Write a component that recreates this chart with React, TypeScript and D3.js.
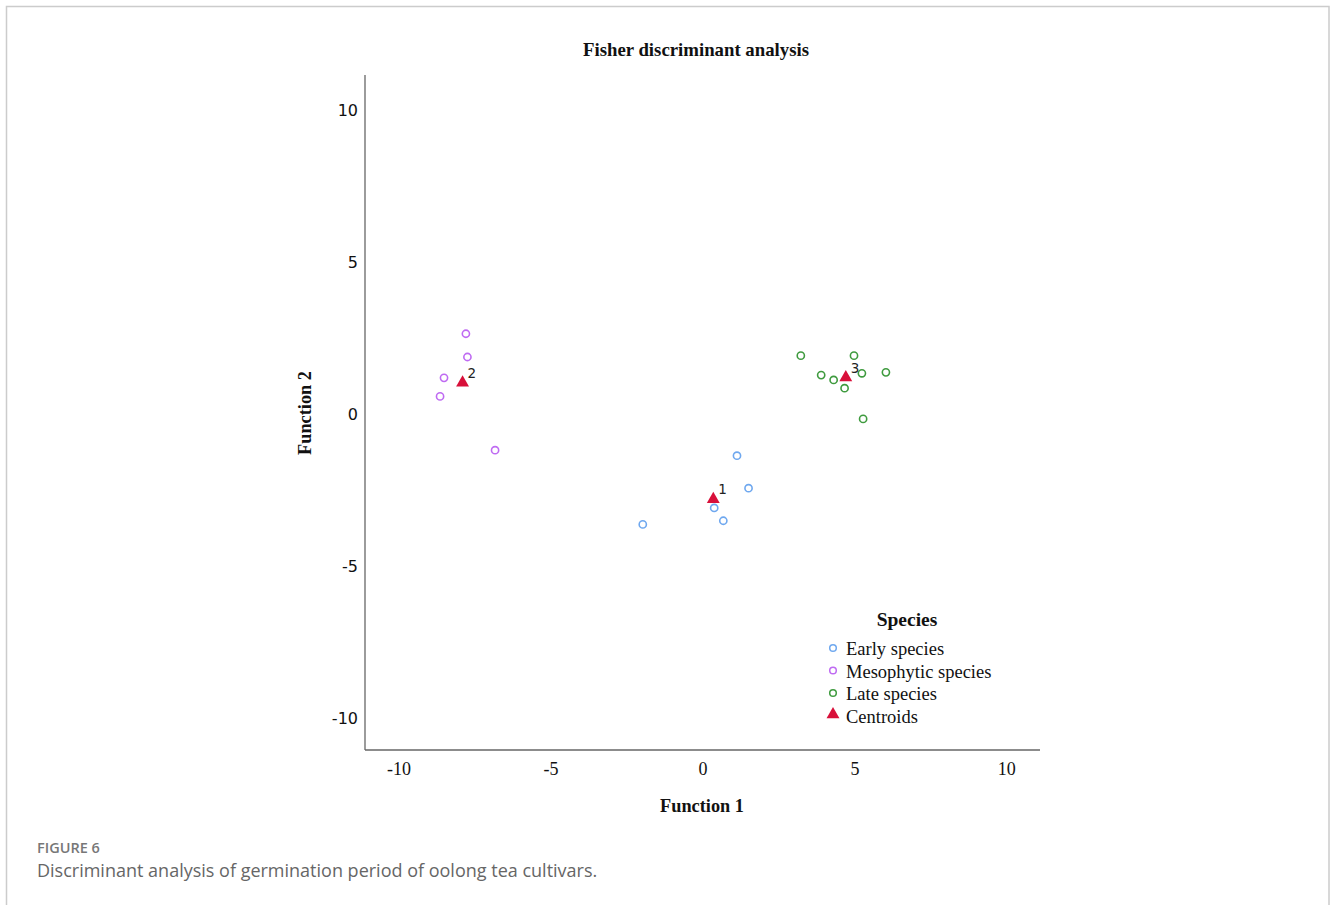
import React from "react";
import * as d3 from "d3";

// discriminant scores
const earlyX = [1.12, 1.5, 0.37, 0.67, -1.98];
const earlyY = [-1.37, -2.44, -3.09, -3.51, -3.63];
const mesoX = [-7.8, -7.75, -8.52, -8.65, -6.84];
const mesoY = [2.64, 1.875, 1.19, 0.58, -1.19];
const lateX = [3.22, 4.97, 3.89, 4.3, 4.66, 5.23, 6.02, 5.27];
const lateY = [1.92, 1.92, 1.28, 1.12, 0.85, 1.34, 1.37, -0.16];
const centroidX = [0.34, -7.91, 4.7];
const centroidY = [-2.8, 1.03, 1.2];
const centroidLabels = ["1", "2", "3"];
const ticks = [-10, -5, 0, 5, 10];
const legendLabels = ["Early species", "Mesophytic species", "Late species", "Centroids"];

const colors = ["#6fa8ef", "#bf6bf2", "#3f9b3f"];
const red = "#d8103a";
const serif = "'Liberation Serif', 'Times New Roman', serif";

export default function App() {
  const width = 1330,
    height = 905;
  const x = d3.scaleLinear().domain([-11.12, 11.09]).range([365, 1040]);
  const y = d3.scaleLinear().domain([-11.05, 11.15]).range([750, 75]);

  const groups = [
    { xs: earlyX, ys: earlyY, color: colors[0] },
    { xs: mesoX, ys: mesoY, color: colors[1] },
    { xs: lateX, ys: lateY, color: colors[2] },
  ];

  const tri = d3.symbol().type(d3.symbolTriangle).size(72)();

  return (
    <svg
      width={width}
      height={height}
      style={{ position: "absolute", left: 0, top: 0, background: "#fff" }}
    >
      <path d="M6.5,920 V6.5 H1329 V920" fill="none" stroke="#cccccc" strokeWidth={1.5} />

      <text x={696} y={56} textAnchor="middle" fontFamily={serif} fontWeight="bold" fontSize={18.8} fill="#111">
        Fisher discriminant analysis
      </text>

      {/* axes */}
      <line x1={365} x2={365} y1={75} y2={750} stroke="#666" strokeWidth={1.3} />
      <line x1={365} x2={1040} y1={750} y2={750} stroke="#666" strokeWidth={1.3} />

      {ticks.map((t) => (
        <text key={"x" + t} x={x(t)} y={775} textAnchor="middle" fontFamily={serif} fontSize={18} fill="#111">
          {t}
        </text>
      ))}
      {ticks.map((t) => (
        <text
          key={"y" + t}
          x={358}
          y={y(t) + 6}
          textAnchor="end"
          fontFamily="'DejaVu Sans', Verdana, sans-serif"
          fontSize={16}
          fill="#111"
        >
          {t}
        </text>
      ))}

      <text x={702} y={812} textAnchor="middle" fontFamily={serif} fontWeight="bold" fontSize={18.3} fill="#111">
        Function 1
      </text>
      <text
        transform="translate(311,413) rotate(-90)"
        textAnchor="middle"
        fontFamily={serif}
        fontWeight="bold"
        fontSize={18.3}
        fill="#111"
      >
        Function 2
      </text>

      {/* points */}
      {groups.map((g, gi) =>
        g.xs.map((v, i) => (
          <circle
            key={gi + "-" + i}
            cx={x(v)}
            cy={y(g.ys[i])}
            r={3.6}
            fill="none"
            stroke={g.color}
            strokeWidth={1.6}
          />
        ))
      )}

      {centroidX.map((v, i) => (
        <g key={"c" + i}>
          <path d={tri} transform={`translate(${x(v)},${y(centroidY[i])})`} fill={red} />
          <text
            x={x(v) + 5}
            y={y(centroidY[i]) - 5}
            fontFamily="'DejaVu Sans', Verdana, sans-serif"
            fontSize={13.5}
            fill="#222"
          >
            {centroidLabels[i]}
          </text>
        </g>
      ))}

      {/* legend */}
      <text x={907} y={626} textAnchor="middle" fontFamily={serif} fontWeight="bold" fontSize={19.5} fill="#111">
        Species
      </text>
      {legendLabels.map((l, i) => {
        const ly = 649 + i * 22.5;
        return (
          <g key={l}>
            {i < 3 ? (
              <circle cx={833} cy={ly - 1} r={3.3} fill="none" stroke={colors[i]} strokeWidth={1.5} />
            ) : (
              <path d={tri} transform={`translate(833,${ly - 2})`} fill={red} />
            )}
            <text x={846} y={ly + 6} fontFamily={serif} fontSize={18.5} fill="#111">
              {l}
            </text>
          </g>
        );
      })}

      {/* caption */}
      <text x={37} y={853} fontFamily="'Open Sans', sans-serif" fontSize={14.5} fontWeight={600} fill="#777">
        FIGURE 6
      </text>
      <text x={37} y={877} fontFamily="'Open Sans', sans-serif" fontSize={18} fill="#666">
        Discriminant analysis of germination period of oolong tea cultivars.
      </text>
    </svg>
  );
}
